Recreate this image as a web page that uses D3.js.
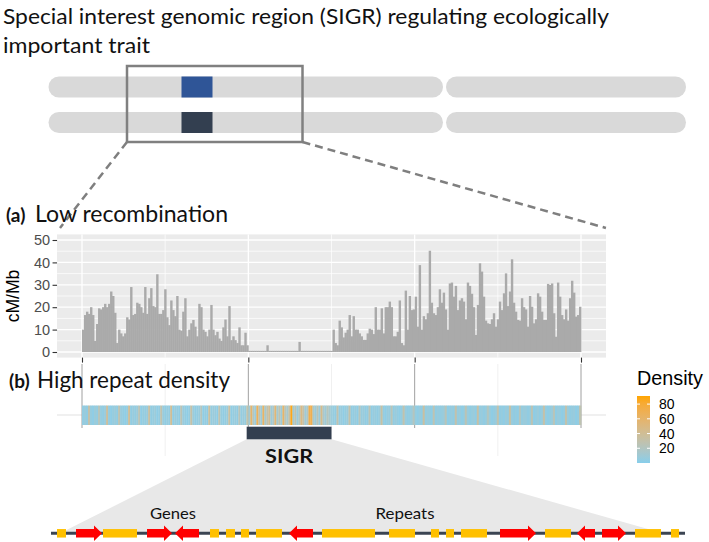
<!DOCTYPE html>
<html><head><meta charset="utf-8">
<script src="https://cdn.jsdelivr.net/npm/d3@7"></script>
<style>body{margin:0;background:#fff}svg{display:block}</style>
</head><body>
<svg id="c" width="709" height="542"></svg>
<script>
// ---------- data ----------
const titleLines = ["Special interest genomic region (SIGR) regulating ecologically", "important trait"];
const recombLeft = [10,16.5,18,17,20,16.5,5,12.5,19.5,19,20,21.5,20,21.5,27,25,17.5,4,10,8.3,7,8.3,15.5,14.5,29,16.5,17,22,21.5,20,17.5,29,17,24,28.5,20.5,20,34.7,17,17,18.7,28,15.5,12,23,18.7,16,25,10,9.5,18,24,7,10,12.8,14.3,11.3,7,21.5,20,
  10,9,7,10,21,10,7.5,9,6,5,11,14.5,7,20.5,5.3,7,5.3,4,11,3,3,8.6,3];
const recombSigr = [0.5,0.5,0.5,0.5,0.5,0.5,0.5,0.5,0.5,3,0.5,0.5,0.5,0.5,0.5,0.5,0.5,0.5,0.5,0.5,0.5,0.5,0.5,0.5,0.5,4.5,0.5,0.5,0.5,0.5,0.5,0.5,0.5,0.5,0.5,0.5,0.5,0.5,0.5,0.5,0.5,0.5];
const recombRight = [10,4,3,14,11,6.5,8.6,10,16.5,7,16,10,10,8.3,7,5.4,5.4,8.3,10.4,10,8,20,10,10,19.5,8.3,20,20,22.5,20,7,7,9,23,4,3,27.4,10,25,18.7,19,24.7,11.3,38.8,10,16,14.6,17.3,45.2,22,17.3,16.5,20,28,22,26.5,19,10,30.6,31,24.7,29.5,18.7,23,24,22.5,
  14.6,31,29.5,26,20,7.6,21,39.6,35.9,24.7,14,12.8,12.5,14.6,17.3,11.3,14.6,22.5,18.7,26.2,35.1,20.5,27,41.4,22,18,14.3,14,24,20,19,11.3,25,20.2,12.8,14.6,26.2,24.7,18,14.3,14.3,30.4,29.9,30.6,17.3,6.8,31,24.7,16.5,14.6,19,14,24,31.8,26.5,15.8,16.5,20.2];
const densityLeft = [5,7,4,30,6,3,8,5,22,6,4,7,35,5,3,6,8,4,26,7,5,3,6,38,4,7,5,8,24,3,6,5,7,33,4,6,8,3,5,28,7,4,6,5,40,3,8,6,4,25,7,5,3,6,31,8,4,5,7,21,3,6,4,36,5,8,7,3,27,6,4,5,8,34,3,6,7,4,23,5,8,6,29];
const densitySigr = [12,58,20,8,66,25,10,62,14,30,40,9,18,55,12,28,10,60,22,15,35,88,11,26,8,20,48,30,10,18,72,70,15,9,24,8,45,16,10,22,14,8];
const densityRight = [6,4,28,5,7,3,6,8,31,4,5,7,3,22,6,8,4,5,26,3,7,6,4,8,33,5,3,7,6,24,4,8,5,3,6,29,7,4,5,8,21,6,3,7,4,35,5,8,6,3,27,4,7,5,6,8,23,3,5,7,4,30,6,8,3,5,25,7,4,6,8,3,32,5,7,4,6,20,8,3,5,7,28,4,6,3,8,5,34,7,4,6,3,22,5,8,7,4,6,26,3,5,8,4,7,31,6,3,5,8,24,4,7,6,3,5,29,8,4,6,7,3,5,27];
const xBreaks = [0, 10, 20, 30];
const xMinor = [5, 15, 25];
const yBreaks = [0, 10, 20, 30, 40, 50];
const yMinor = [5, 15, 25, 35, 45];
const densityLimits = [0, 91];
const legendBreaks = [20, 40, 60, 80];
const sigrMb = [9.9, 15.0];
// schematic chromosome (arbitrary units)
const chromArms = [[0, 394.5], [397.5, 637.5]];
const chromSigr = [133, 164];
const chromZoom = [78.5, 254];
// SIGR contents (kb): [start, end, type]
const features = [[6,15,"R"],[25,51,"G+"],[52,86,"R"],[96,121,"G+"],[124,148,"G-"],[159,168,"R"],[175,184,"R"],[190,198,"R"],[205,231,"R"],[238,262,"G-"],[271,324,"R"],[338,364,"R"],[380,388,"R"],[395,403,"R"],[410,436,"R"],[449,485,"G+"],[494,520,"R"],[526,544,"G-"],[551,575,"G+"],[584,610,"R"],[620,628,"R"]];
const sigrLengthKb = 634;
const featureLabels = [["Genes", 122, 46], ["Repeats", 354, 59]];

// ---------- drawing ----------
const svg = d3.select("#c");
const CAL = "Lato, 'Open Sans', sans-serif";
const HEL = "'Liberation Sans', Arial, sans-serif";
function squeeze(sel, w) {
  sel.attr("textLength", w).attr("lengthAdjust", "spacingAndGlyphs");
}

// title
const tfs = 21;
squeeze(svg.append("text").attr("x", 3).attr("y", 23.5).attr("font-family", CAL).attr("font-size", tfs).attr("fill", "#111").text(titleLines[0]), 606);
squeeze(svg.append("text").attr("x", 3).attr("y", 52.5).attr("font-family", CAL).attr("font-size", tfs).attr("fill", "#111").text(titleLines[1]), 147);

// chromosomes
const cx = d3.scaleLinear([0, 637.5], [48.5, 686]);
const rows = [{y: 76.5, col: "#2F5597"}, {y: 112, col: "#333F50"}];
const ch = 21;
rows.forEach(r => {
  chromArms.forEach(a => {
    svg.append("rect").attr("x", cx(a[0])).attr("y", r.y).attr("width", cx(a[1]) - cx(a[0])).attr("height", ch)
      .attr("rx", ch / 2).attr("fill", "#D9D9D9");
  });
  svg.append("rect").attr("x", cx(chromSigr[0])).attr("y", r.y).attr("width", cx(chromSigr[1]) - cx(chromSigr[0])).attr("height", ch).attr("fill", r.col);
});
const boxTop = 66, boxBot = 142;
svg.append("rect").attr("x", cx(chromZoom[0])).attr("y", boxTop).attr("width", cx(chromZoom[1]) - cx(chromZoom[0])).attr("height", boxBot - boxTop)
  .attr("fill", "none").attr("stroke", "#808080").attr("stroke-width", 2.5);

// panel a
const x = d3.scaleLinear([0, 30], [82, 581]);
const y = d3.scaleLinear([0, 50], [352, 240]);
const pL = x(-1.5), pR = x(31.5), pT = y(52.5), pB = y(-2.5);

// dashed zoom lines
svg.append("line").attr("x1", cx(chromZoom[0])).attr("y1", boxBot).attr("x2", 60).attr("y2", 228)
  .attr("stroke", "#7F7F7F").attr("stroke-width", 2.5).attr("stroke-dasharray", "8,5");
svg.append("line").attr("x1", cx(chromZoom[1])).attr("y1", boxBot).attr("x2", pR).attr("y2", 228)
  .attr("stroke", "#7F7F7F").attr("stroke-width", 2.5).attr("stroke-dasharray", "8,5");

svg.append("rect").attr("x", pL).attr("y", pT).attr("width", pR - pL).attr("height", pB - pT).attr("fill", "#EBEBEB");
const ga = svg.append("g");
yMinor.forEach(v => ga.append("line").attr("x1", pL).attr("x2", pR).attr("y1", y(v)).attr("y2", y(v)).attr("stroke", "#fff").attr("stroke-width", 0.7));
xMinor.forEach(v => ga.append("line").attr("y1", pT).attr("y2", pB).attr("x1", x(v)).attr("x2", x(v)).attr("stroke", "#fff").attr("stroke-width", 0.7));
yBreaks.forEach(v => ga.append("line").attr("x1", pL).attr("x2", pR).attr("y1", y(v)).attr("y2", y(v)).attr("stroke", "#fff").attr("stroke-width", 1.3));
xBreaks.forEach(v => ga.append("line").attr("y1", pT).attr("y2", pB).attr("x1", x(v)).attr("x2", x(v)).attr("stroke", "#fff").attr("stroke-width", 1.3));

const recomb = recombLeft.concat(recombSigr, recombRight);
const bw = 30 / recomb.length;
svg.append("g").selectAll("rect").data(recomb).join("rect")
  .attr("x", (d, i) => x(i * bw)).attr("width", (d, i) => x((i + 1) * bw) - x(i * bw) + 0.4)
  .attr("y", d => y(d)).attr("height", d => y(0) - y(d)).attr("fill", "#AAAAAA");

const yAx = svg.append("g").attr("transform", `translate(${pL},0)`)
  .call(d3.axisLeft(y).tickValues(yBreaks).tickSize(4.5).tickPadding(2.5));
yAx.select(".domain").remove();
yAx.selectAll("line").attr("stroke", "#333").attr("stroke-width", 1.1);
yAx.selectAll("text").attr("font-family", HEL).attr("font-size", 14.5).attr("fill", "#4D4D4D");
const xAx = svg.append("g").attr("transform", `translate(0,${pB})`)
  .call(d3.axisBottom(x).tickValues(xBreaks).tickSize(5).tickFormat(""));
xAx.select(".domain").remove();
xAx.selectAll("line").attr("stroke", "#333").attr("stroke-width", 1.1);
svg.append("text").attr("transform", `translate(19,296) rotate(-90)`).attr("text-anchor", "middle")
  .attr("font-family", HEL).attr("font-size", 17.5).attr("fill", "#000").text("cM/Mb");

// panel labels
svg.append("text").attr("x", 6).attr("y", 221.7).attr("font-family", CAL).attr("font-weight", "bold").attr("font-size", 19).attr("fill", "#111").text("(a)");
squeeze(svg.append("text").attr("x", 35).attr("y", 221.7).attr("font-family", CAL).attr("font-size", 22.5).attr("fill", "#111").text("Low recombination"), 193);

// panel b
const gb = svg.append("g");
gb.append("line").attr("x1", pL).attr("x2", pR).attr("y1", 415).attr("y2", 415).attr("stroke", "#EBEBEB").attr("stroke-width", 1.5);
xMinor.forEach(v => gb.append("line").attr("x1", x(v)).attr("x2", x(v)).attr("y1", 364).attr("y2", 456).attr("stroke", "#F0F0F0").attr("stroke-width", 1));
xBreaks.forEach(v => gb.append("line").attr("x1", x(v)).attr("x2", x(v)).attr("y1", 364).attr("y2", 428).attr("stroke", "#A0A0A0").attr("stroke-width", 1));

const density = densityLeft.concat(densitySigr, densityRight);
const color = d3.scaleLinear().domain(densityLimits).range(["skyblue", "orange"]).interpolate(d3.interpolateLab);
const dw = 30 / density.length;
svg.append("g").selectAll("rect").data(density).join("rect")
  .attr("x", (d, i) => x(i * dw)).attr("width", (d, i) => x((i + 1) * dw) - x(i * dw) + 0.3)
  .attr("y", 405.5).attr("height", 19.5).attr("fill", d => color(d));

svg.append("text").attr("x", 9).attr("y", 388).attr("font-family", CAL).attr("font-weight", "bold").attr("font-size", 19).attr("fill", "#111").text("(b)");
squeeze(svg.append("text").attr("x", 37).attr("y", 388).attr("font-family", CAL).attr("font-size", 22.5).attr("fill", "#111").text("High repeat density"), 193);

// legend
const ly = d3.scaleLinear(densityLimits, [463, 396]);
const defs = svg.append("defs");
const grad = defs.append("linearGradient").attr("id", "lg").attr("x1", 0).attr("y1", 1).attr("x2", 0).attr("y2", 0);
d3.range(0, 1.0001, 0.1).forEach(t => grad.append("stop").attr("offset", t).attr("stop-color", color(densityLimits[0] + t * (densityLimits[1] - densityLimits[0]))));
svg.append("rect").attr("x", 637).attr("y", ly(densityLimits[1])).attr("width", 13).attr("height", ly(densityLimits[0]) - ly(densityLimits[1])).attr("fill", "url(#lg)");
legendBreaks.forEach(v => {
  svg.append("line").attr("x1", 637).attr("x2", 640).attr("y1", ly(v)).attr("y2", ly(v)).attr("stroke", "#fff");
  svg.append("line").attr("x1", 647).attr("x2", 650).attr("y1", ly(v)).attr("y2", ly(v)).attr("stroke", "#fff");
  svg.append("text").attr("x", 659).attr("y", ly(v)).attr("dy", "0.36em").attr("font-family", HEL).attr("font-size", 14).attr("fill", "#000").text(v);
});
squeeze(svg.append("text").attr("x", 637).attr("y", 385).attr("font-family", HEL).attr("font-size", 19.5).attr("fill", "#000").text("Density"), 66);

// SIGR zoom
const gx = d3.scaleLinear([0, sigrLengthKb], [51, 685]);
const lineY = 533.3;
svg.append("polygon").attr("points", [[x(sigrMb[0]), 439.3], [x(sigrMb[1]), 439.3], [gx(612), lineY], [gx(9), lineY]].map(p => p.join(",")).join(" "))
  .attr("fill", "#E8E8E8");
svg.append("rect").attr("x", x(sigrMb[0])).attr("y", 426.7).attr("width", x(sigrMb[1]) - x(sigrMb[0])).attr("height", 12.6).attr("fill", "#333F50");
squeeze(svg.append("text").attr("x", (x(sigrMb[0]) + x(sigrMb[1])) / 2 - 24).attr("y", 463)
  .attr("font-family", CAL).attr("font-weight", "bold").attr("font-size", 19).attr("fill", "#111").text("SIGR"), 48);

svg.append("line").attr("x1", gx(0)).attr("x2", gx(sigrLengthKb)).attr("y1", lineY).attr("y2", lineY).attr("stroke", "#3B4452").attr("stroke-width", 3);
const bodyH = 8.5, headH = 15.5, headL = 8;
features.forEach(f => {
  const a = gx(f[0]), b = gx(f[1]);
  if (f[2] === "R") {
    svg.append("rect").attr("x", a).attr("y", lineY - bodyH / 2).attr("width", b - a).attr("height", bodyH).attr("fill", "#FFC000");
  } else {
    let pts;
    if (f[2] === "G+") {
      pts = [[a, lineY - bodyH / 2], [b - headL, lineY - bodyH / 2], [b - headL, lineY - headH / 2], [b, lineY], [b - headL, lineY + headH / 2], [b - headL, lineY + bodyH / 2], [a, lineY + bodyH / 2]];
    } else {
      pts = [[b, lineY - bodyH / 2], [a + headL, lineY - bodyH / 2], [a + headL, lineY - headH / 2], [a, lineY], [a + headL, lineY + headH / 2], [a + headL, lineY + bodyH / 2], [b, lineY + bodyH / 2]];
    }
    svg.append("polygon").attr("points", pts.map(p => p.join(",")).join(" ")).attr("fill", "#FF0000");
  }
});
featureLabels.forEach(l => {
  squeeze(svg.append("text").attr("x", gx(l[1]) - l[2] / 2).attr("y", 518.5).attr("font-family", CAL).attr("font-size", 16).attr("fill", "#111").text(l[0]), l[2]);
});
</script>
</body></html>
